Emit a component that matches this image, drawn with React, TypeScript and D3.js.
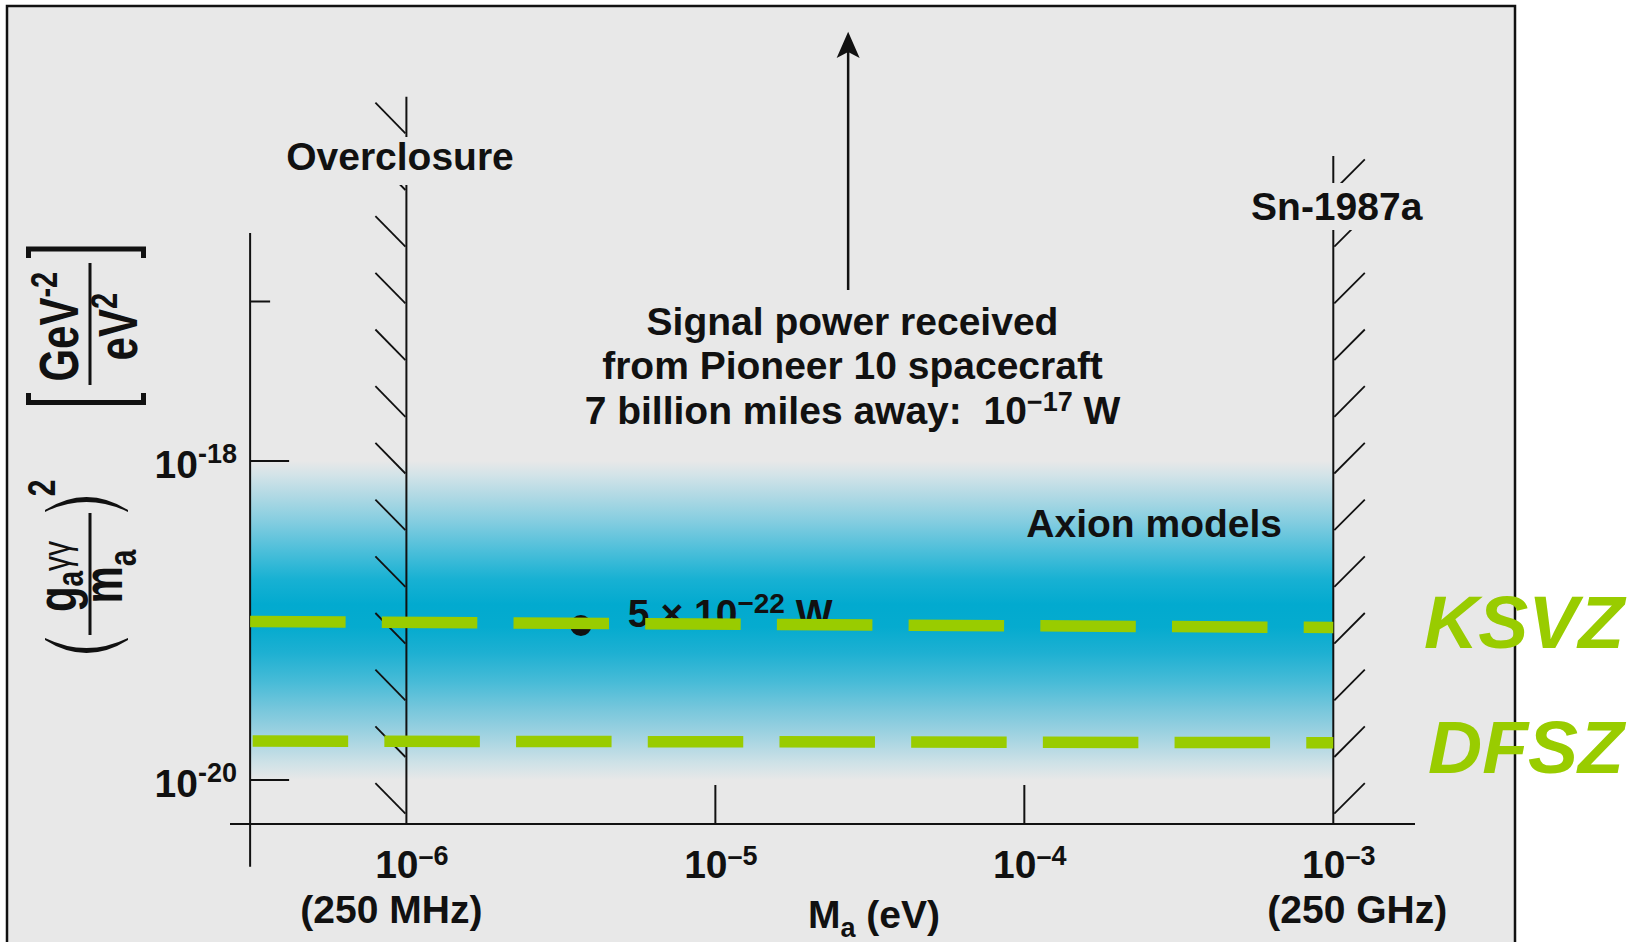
import React from 'react';
import * as d3 from 'd3';

// ---------------- data ----------------
const X_TICKS = [1e-6, 1e-5, 1e-4, 1e-3];
const X_TICK_EXPONENTS = ['–6', '–5', '–4', '–3'];
const X_TICK_MARKED = [false, true, true, false];
const FREQ_LOW_LABEL = '(250 MHz)';
const FREQ_HIGH_LABEL = '(250 GHz)';
const Y_TICKS = [1e-17, 1e-18, 1e-20];
const Y_TICK_EXPONENTS = ['', '-18', '-20'];
const Y_TICK_LONG = [false, true, true];

const MASS_AXIS_AT = 3.12e-7;
const OVERCLOSURE_MASS = 1e-6;
const SN1987A_MASS = 1e-3;
const ARROW_MASS = 2.69e-5;
const BAND_TOP = 1e-18;
const BAND_BOTTOM = 1e-20;

const KSVZ_MASS = [3.12e-7, 1e-3];
const KSVZ_COUPLING = [9.86e-20, 9.04e-20];
const DFSZ_MASS = [3.18e-7, 1e-3];
const DFSZ_COUPLING = [1.755e-20, 1.714e-20];
const PIONEER_MASS = [3.67e-6];
const PIONEER_COUPLING = [9.3e-20];

const FF = '"Liberation Sans", Arial, Helvetica, sans-serif';
const BG = '#e8e8e8';
const GREEN = '#99cc00';

export default function App() {
  const x = d3.scaleLog().domain([1e-6, 1e-3]).range([406.4, 1333.3]);
  const y = d3.scaleLog().domain([1e-18, 1e-20]).range([461, 780]);
  const line = d3.line<[number, number]>().x((d) => x(d[0])).y((d) => y(d[1]));

  const axX = x(MASS_AXIS_AT);
  const axisY = 824;
  const xo = x(OVERCLOSURE_MASS);
  const xs = x(SN1987A_MASS);
  const xa = x(ARROW_MASS);
  const hatchYs = d3.range(133.3, 830, 56.7);

  const ksvz = KSVZ_MASS.map((m, i) => [m, KSVZ_COUPLING[i]] as [number, number]);
  const dfsz = DFSZ_MASS.map((m, i) => [m, DFSZ_COUPLING[i]] as [number, number]);

  const stops: [number, string][] = [
    [0, '#e8e8e8'], [0.045, '#d2e3e8'], [0.11, '#b0d9e4'], [0.19, '#84cde0'],
    [0.28, '#4dbfda'], [0.37, '#18b1d3'], [0.45, '#02aacf'], [0.52, '#05abcf'],
    [0.6, '#1db0d2'], [0.69, '#46bbd7'], [0.78, '#78c7dc'], [0.875, '#a8d5e2'],
    [0.95, '#d0e2e7'], [1, '#e8e8e8'],
  ];

  const S = 1.3; // vertical stretch of rotated label glyphs
  const rot = (sx: number, sy: number) => `translate(${sx},${sy}) rotate(-90) scale(1,${S})`;

  return (
    <svg width={1642} height={942} style={{ position: 'absolute', left: 0, top: 0 }}
      fontFamily={FF} fontWeight="bold">
      <defs>
        <linearGradient id="band" x1="0" y1="0" x2="0" y2="1">
          {stops.map(([o, c]) => <stop key={o} offset={o} stopColor={c} />)}
        </linearGradient>
      </defs>
      <rect x={0} y={0} width={1642} height={942} fill="#ffffff" />
      <rect x={7} y={6} width={1508} height={1000} fill={BG} stroke="#111" strokeWidth={2.5} />

      {/* axion band */}
      <rect x={axX} y={y(BAND_TOP)} width={xs - axX} height={y(BAND_BOTTOM) - y(BAND_TOP)} fill="url(#band)" />

      {/* axes */}
      <line x1={axX} x2={axX} y1={233} y2={866.7} stroke="#111" strokeWidth={2} />
      <line x1={230} x2={1415} y1={axisY} y2={axisY} stroke="#111" strokeWidth={2} />
      {Y_TICKS.map((t, i) => (
        <line key={'yt' + i} x1={axX} x2={axX + (Y_TICK_LONG[i] ? 39 : 20)} y1={y(t)} y2={y(t)} stroke="#111" strokeWidth={2} />
      ))}
      {Y_TICKS.map((t, i) => Y_TICK_EXPONENTS[i] ? (
        <text key={'yl' + i} x={237} y={y(t) + 16.5} textAnchor="end" fontSize={39} fill="#111">
          10<tspan fontSize={27} dy={-15}>{Y_TICK_EXPONENTS[i]}</tspan>
        </text>
      ) : null)}
      {X_TICKS.map((t, i) => X_TICK_MARKED[i] ? (
        <line key={'xt' + i} x1={x(t)} x2={x(t)} y1={axisY - 39} y2={axisY} stroke="#111" strokeWidth={2} />
      ) : null)}
      {X_TICKS.map((t, i) => (
        <text key={'xl' + i} x={x(t) + 5.5} y={878} textAnchor="middle" fontSize={39} fill="#111">
          10<tspan fontSize={27} dy={-13}>{X_TICK_EXPONENTS[i]}</tspan>
        </text>
      ))}
      <text x={x(X_TICKS[0]) + 76} y={923} textAnchor="end" fontSize={39} fill="#111">{FREQ_LOW_LABEL}</text>
      <text x={x(X_TICKS[3]) - 66} y={923} textAnchor="start" fontSize={39} fill="#111">{FREQ_HIGH_LABEL}</text>
      <text x={808} y={928} fontSize={39} fill="#111">
        M<tspan fontSize={27} dy={9}>a</tspan><tspan dy={-9}> (eV)</tspan>
      </text>

      {/* overclosure boundary */}
      <line x1={xo} x2={xo} y1={96.7} y2={axisY} stroke="#111" strokeWidth={2} />
      {hatchYs.map((h, i) => (
        <line key={'ho' + i} x1={xo - 1} y1={h} x2={xo - 31} y2={h - 30.6} stroke="#111" strokeWidth={1.8} />
      ))}
      <rect x={280} y={137} width={250} height={48} fill={BG} />
      <text x={400} y={170} textAnchor="middle" fontSize={39} fill="#111">Overclosure</text>

      {/* SN1987a boundary */}
      <line x1={xs} x2={xs} y1={156} y2={axisY} stroke="#111" strokeWidth={2} />
      {hatchYs.filter((h) => h - 30.6 >= 150).map((h, i) => (
        <line key={'hs' + i} x1={xs + 1} y1={h} x2={xs + 31.5} y2={h - 30.6} stroke="#111" strokeWidth={1.8} />
      ))}
      <rect x={1240} y={183} width={200} height={47} fill={BG} />
      <text x={1336.7} y={220} textAnchor="middle" fontSize={39} fill="#111">Sn-1987a</text>

      {/* Pioneer arrow and text */}
      <line x1={xa} x2={xa} y1={290} y2={52} stroke="#111" strokeWidth={2.5} />
      <path d={`M${xa},31.7 L${xa + 11.5},58 L${xa},52 L${xa - 11.5},58 Z`} fill="#111" />
      <g textAnchor="middle" fontSize={39} fill="#111">
        <text x={852.5} y={335}>Signal power received</text>
        <text x={852.5} y={379}>from Pioneer 10 spacecraft</text>
        <text x={852.5} y={424} style={{ whiteSpace: 'pre' }}>
          {'7 billion miles away:  10'}<tspan fontSize={27} dy={-13}>−17</tspan><tspan dy={13}> W</tspan>
        </text>
      </g>

      <text x={1282} y={537} textAnchor="end" fontSize={39} fill="#111">Axion models</text>

      {/* Pioneer-equivalent point */}
      {PIONEER_MASS.map((m, i) => (
        <g key={'pt' + i}>
          <circle cx={x(m)} cy={y(PIONEER_COUPLING[i])} r={10.5} fill="#111" />
          <text x={x(m) + 47} y={y(PIONEER_COUPLING[i]) + 1} fontSize={39} fill="#111">
            5 × 10<tspan fontSize={28} dy={-14}>−22</tspan><tspan dy={14}> W</tspan>
          </text>
        </g>
      ))}

      {/* model lines */}
      <path d={line(ksvz) || ''} stroke={GREEN} strokeWidth={11.5} fill="none" strokeDasharray="95.5 36.2" />
      <path d={line(dfsz) || ''} stroke={GREEN} strokeWidth={11.5} fill="none" strokeDasharray="95.5 36.2" />

      {/* y-axis label */}
      <g fill="#111">
        <path d="M28.5,258 L28.5,249 L143.5,249 L143.5,258" stroke="#111" strokeWidth={5} fill="none" />
        <path d="M28.5,393 L28.5,402.5 L143.5,402.5 L143.5,393" stroke="#111" strokeWidth={5} fill="none" />
        <line x1={90} x2={90} y1={263} y2={385} stroke="#111" strokeWidth={3} />
        <text transform={rot(78, 326.7)} textAnchor="middle" fontSize={42}>
          GeV<tspan fontSize={29} dy={-16}>-2</tspan>
        </text>
        <text transform={rot(136.7, 326.7)} textAnchor="middle" fontSize={42}>
          eV<tspan fontSize={29} dy={-15}>2</tspan>
        </text>

        <path d="M45,510 Q86.5,484 128,510 L128,512 Q86.5,492 45,512 Z" />
        <path d="M45,640 Q86.5,666 128,640 L128,638 Q86.5,658 45,638 Z" />
        <line x1={90} x2={90} y1={513} y2={635} stroke="#111" strokeWidth={3} />
        <text transform={rot(76, 576.5)} textAnchor="middle" fontSize={42}>
          g<tspan fontSize={28} dy={5}>a</tspan><tspan fontSize={30} fontWeight="normal" dy={-10}>γγ</tspan>
        </text>
        <text transform={rot(122, 576.5)} textAnchor="middle" fontSize={42}>
          m<tspan fontSize={30} dy={11}>a</tspan>
        </text>
        <text transform={rot(55, 488)} textAnchor="middle" fontSize={30}>2</text>
      </g>

      {/* model names */}
      <text x={1424} y={648} fontSize={75} fontStyle="italic" fill={GREEN}>KSVZ</text>
      <text x={1428} y={773} fontSize={75} fontStyle="italic" fill={GREEN}>DFSZ</text>
    </svg>
  );
}
